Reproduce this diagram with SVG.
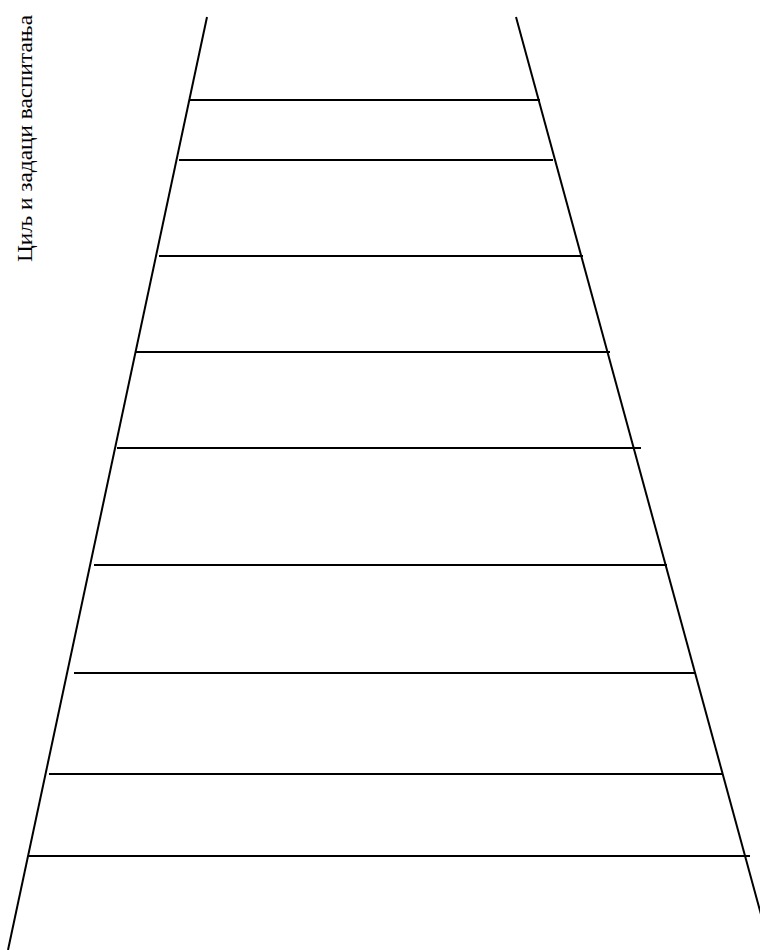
<svg xmlns="http://www.w3.org/2000/svg" width="760" height="950" viewBox="0 0 760 950">
<style>
.l{stroke:#000;stroke-width:2;fill:none}
</style>
<rect width="760" height="950" fill="#fff"/>
<g id="title"><text font-family="Liberation Serif, DejaVu Serif, serif" font-size="22" fill="#000" transform="translate(32,138.5) rotate(-90)" text-anchor="middle" textLength="247" lengthAdjust="spacingAndGlyphs">Циљ и задаци васпитања</text></g>
<g id="sides">
<line class="l" x1="207" y1="17" x2="8" y2="950"/>
<line class="l" x1="516" y1="17" x2="768" y2="940"/>
</g>
<g id="rungs">
<line class="l" x1="190" y1="100" x2="540" y2="100"/>
<line class="l" x1="179" y1="160" x2="553" y2="160"/>
<line class="l" x1="159" y1="256" x2="583" y2="256"/>
<line class="l" x1="136" y1="352" x2="610" y2="352"/>
<line class="l" x1="117" y1="448" x2="641" y2="448"/>
<line class="l" x1="94" y1="565" x2="667" y2="565"/>
<line class="l" x1="74" y1="673" x2="696" y2="673"/>
<line class="l" x1="49" y1="774" x2="723" y2="774"/>
<line class="l" x1="29" y1="856" x2="750" y2="856"/>
</g>
</svg>
